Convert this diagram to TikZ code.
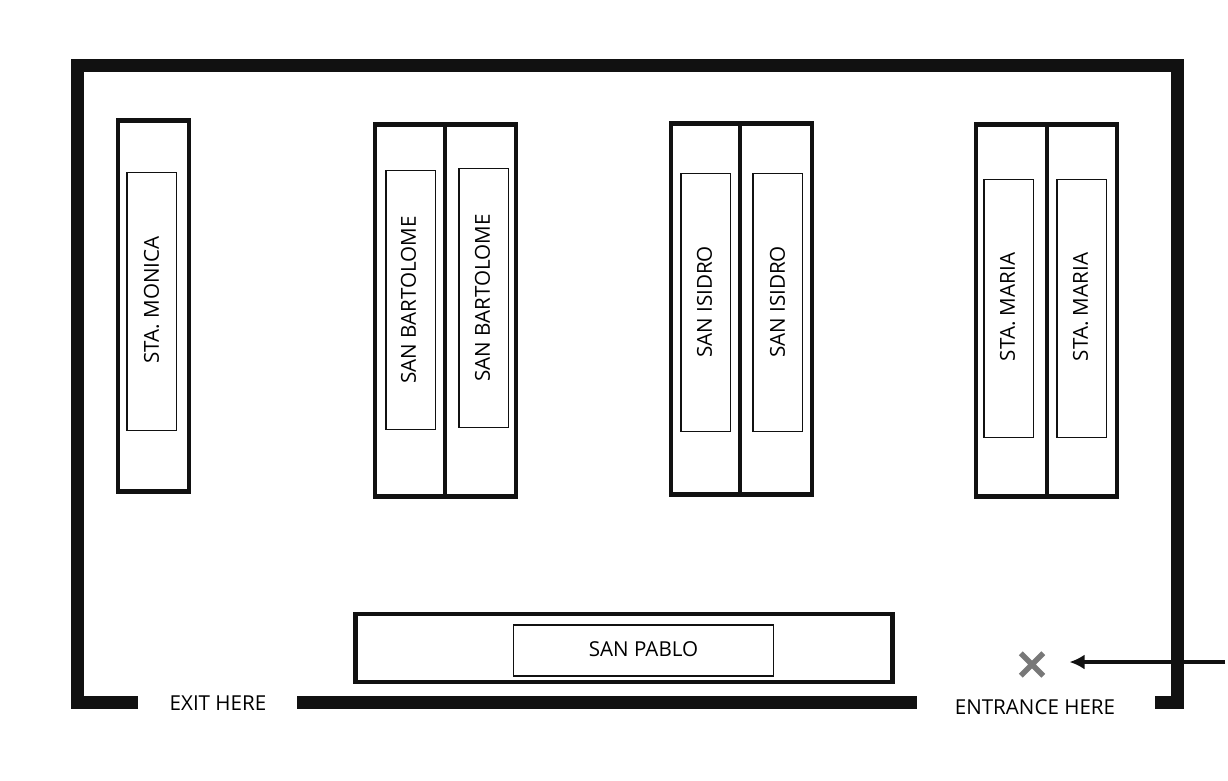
\documentclass[tikz,border=0pt]{standalone}
\usepackage{fontspec}
\setmainfont{Open Sans}
\usetikzlibrary{arrows.meta}
\usetikzlibrary{shapes.misc}
\definecolor{wall1}{RGB}{17, 17, 17}
\definecolor{mark1}{RGB}{120, 120, 120}
\tikzset{
  shelfbox/.style={rectangle,draw=wall1,line width=4.6pt,inner sep=0pt,minimum width=#1},
  signbox/.style={rectangle,draw=wall1,line width=1.3pt,inner sep=0pt,minimum width=49.5pt,minimum height=258.5pt},
  signtext/.style={rotate=90,font=\fontsize{20.6}{20.6}\selectfont},
  doortext/.style={font=\fontsize{20.6}{20.6}\selectfont,inner sep=0pt},
  wallline/.style={draw=wall1,line width=13pt,miter limit=10}
}
\begin{document}
\begin{tikzpicture}[x=1pt,y=-1pt]
  \useasboundingbox (0,0) rectangle (1228,780);

  % walls
  \draw[wallline] (138,702) -- (77.5,702) -- (77.5,65.5) -- (1177.5,65.5) -- (1177.5,702) -- (1155,702);
  \draw[wallline] (297,702) -- (917,702);

  % shelves
  \foreach \name/\x/\y/\w in {monica/153.5/306/71, bartolomeA/410/310.5/70, bartolomeB/480.5/310.5/71,
      isidroA/705.5/309/69, isidroB/776/309/72, mariaA/1011.5/310.5/71, mariaB/1082/310.5/70}
    \node[shelfbox=\w pt, minimum height=371.5pt] (\name) at (\x,\y) {};

  % signs
  \node[signbox] (signmonica) at (151.7,301.5) {};
  \node[signbox] (signbartolomeA) at (410.7,300) {};
  \node[signbox] (signbartolomeB) at (483.7,298) {};
  \node[signbox] (signisidroA) at (705.7,302.5) {};
  \node[signbox] (signisidroB) at (777.7,302.5) {};
  \node[signbox] (signmariaA) at (1008.7,308.5) {};
  \node[signbox] (signmariaB) at (1081.7,308.5) {};
  \node[signtext] (textmonica) at (151.5,300) {STA. MONICA};
  \node[signtext] (textbartolomeA) at (408.5,300) {SAN BARTOLOME};
  \node[signtext] (textbartolomeB) at (482.5,298) {SAN BARTOLOME};
  \node[signtext] (textisidroA) at (704.5,302) {SAN ISIDRO};
  \node[signtext] (textisidroB) at (777.5,302) {SAN ISIDRO};
  \node[signtext] (textmariaA) at (1007.5,307) {STA. MARIA};
  \node[signtext] (textmariaB) at (1080.5,307) {STA. MARIA};

  \node[shelfbox=536.5pt, minimum height=68pt] (pablo) at (624,648) {};
  \node[rectangle,draw=wall1,line width=1.3pt,minimum width=260pt,minimum height=51pt,inner sep=0pt] (signpablo) at (643.5,650.5) {};
  \node[doortext] (textpablo) at (643.5,649.5) {SAN PABLO};

  % doors
  \node[doortext] (exitlabel) at (218,703) {EXIT HERE};
  \node[doortext] (entrancelabel) at (1035,707.5) {ENTRANCE HERE};
  \node[cross out,draw=mark1,line width=5.5pt,minimum size=17pt,inner sep=0pt] (entrancemark) at (1032,664.5) {};
  \coordinate (arrowstart) at (1225,662);
  \coordinate (arrowend) at (1069.5,662);
  \draw[-{Latex[length=15pt,width=15pt]},draw=wall1,line width=3.5pt] (arrowstart) -- (arrowend);
\end{tikzpicture}
\end{document}
